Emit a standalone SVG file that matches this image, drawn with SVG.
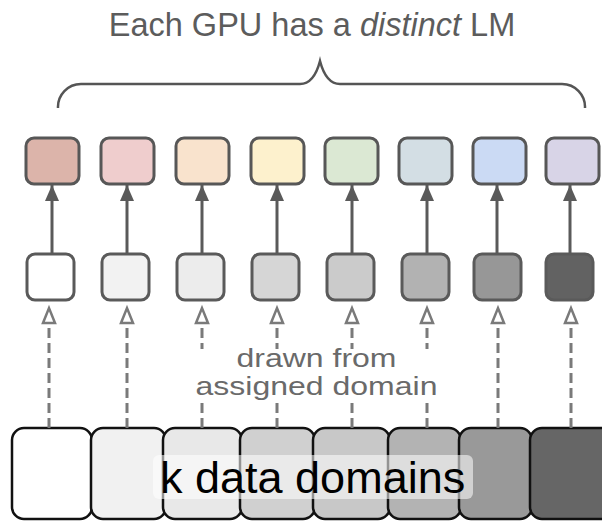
<svg xmlns="http://www.w3.org/2000/svg" width="602" height="521" viewBox="0 0 602 521">
  <style>
    .lm { stroke: #575757; stroke-width: 3; }
    .shard { stroke: #5a5a5a; stroke-width: 3; }
    .dom { stroke: #111; stroke-width: 2.5; }
    .up { stroke: #5a5a5a; stroke-width: 3; fill: none; }
    .draw { stroke: #7a7a7a; stroke-width: 3; fill: none; stroke-dasharray: 10 5; }
    .title { font-family: "Liberation Sans", Arial, sans-serif; font-size: 32.5px; fill: #5c5c5c; }
    .note { font-family: "Liberation Sans", Arial, sans-serif; font-size: 25px; fill: #6a6a6a; }
    .big { font-family: "Liberation Sans", Arial, sans-serif; font-size: 45px; fill: #000; }
  </style>
  <defs>
    <marker id="solidHead" markerUnits="userSpaceOnUse" viewBox="0 -8 16 16" refX="16" refY="0" markerWidth="16" markerHeight="16" orient="auto">
      <path d="M0,-7 L16,0 L0,7 Z" fill="#5a5a5a"/>
    </marker>
    <marker id="openHead" markerUnits="userSpaceOnUse" viewBox="-2 -9 20 18" refX="0" refY="0" markerWidth="20" markerHeight="18" orient="auto" overflow="visible">
      <path d="M0,-6 L15,0 L0,6 Z" fill="#fff" stroke="#7a7a7a" stroke-width="2.5" stroke-linejoin="miter"/>
    </marker>
  </defs>

  <!-- title and brace -->
  <text class="title" x="312" y="36" text-anchor="middle">Each GPU has a <tspan font-style="italic">distinct</tspan> LM</text>
  <path d="M58,108 A23,23 0 0 1 81,84 L300,84 Q314,84 320,61 Q326,84 340,84 L562,84 A23,23 0 0 1 585,108" fill="none" stroke="#555" stroke-width="2.5"/>

  <!-- language models, one per GPU -->
  <g id="lm1"><rect class="lm" x="26" y="138" width="53" height="46" rx="8" fill="#dcb4aa"/></g>
  <g id="lm2"><rect class="lm" x="101" y="138" width="53" height="46" rx="8" fill="#efcdcd"/></g>
  <g id="lm3"><rect class="lm" x="176" y="138" width="53" height="46" rx="8" fill="#f9e3cd"/></g>
  <g id="lm4"><rect class="lm" x="251" y="138" width="53" height="46" rx="8" fill="#fdf1cd"/></g>
  <g id="lm5"><rect class="lm" x="325" y="138" width="53" height="46" rx="8" fill="#dbe8d3"/></g>
  <g id="lm6"><rect class="lm" x="399" y="138" width="53" height="46" rx="8" fill="#d3dee4"/></g>
  <g id="lm7"><rect class="lm" x="473" y="138" width="53" height="46" rx="8" fill="#cbdaf4"/></g>
  <g id="lm8"><rect class="lm" x="546" y="138" width="53" height="46" rx="8" fill="#d8d4e7"/></g>

  <!-- data shards -->
  <g id="shard1"><rect class="shard" x="27" y="254" width="47" height="46" rx="8" fill="#ffffff"/></g>
  <g id="shard2"><rect class="shard" x="102" y="254" width="47" height="46" rx="8" fill="#f2f2f2"/></g>
  <g id="shard3"><rect class="shard" x="177" y="254" width="47" height="46" rx="8" fill="#ececec"/></g>
  <g id="shard4"><rect class="shard" x="252" y="254" width="47" height="46" rx="8" fill="#d6d6d6"/></g>
  <g id="shard5"><rect class="shard" x="327" y="254" width="47" height="46" rx="8" fill="#cbcbcb"/></g>
  <g id="shard6"><rect class="shard" x="402" y="254" width="47" height="46" rx="8" fill="#b2b2b2"/></g>
  <g id="shard7"><rect class="shard" x="474" y="254" width="47" height="46" rx="8" fill="#979797"/></g>
  <g id="shard8"><rect class="shard" x="546" y="254" width="47" height="46" rx="8" fill="#626262"/></g>

  <!-- data domains -->
  <g id="domains">
    <rect class="dom" x="12" y="428" width="80" height="91" rx="12" fill="#ffffff"/>
    <rect class="dom" x="91" y="428" width="75" height="91" rx="12" fill="#f1f1f1"/>
    <rect class="dom" x="163" y="428" width="79" height="91" rx="12" fill="#e8e8e8"/>
    <rect class="dom" x="240" y="428" width="75" height="91" rx="12" fill="#d0d0d0"/>
    <rect class="dom" x="313" y="428" width="77" height="91" rx="12" fill="#c8c8c8"/>
    <rect class="dom" x="388" y="428" width="73" height="91" rx="12" fill="#b3b3b3"/>
    <rect class="dom" x="459" y="428" width="73" height="91" rx="12" fill="#999999"/>
    <rect class="dom" x="530" y="428" width="90" height="91" rx="12" fill="#666666"/>
    <rect x="153" y="455" width="320" height="44" rx="6" fill="#ffffff" fill-opacity="0.55"/>
    <text class="big" x="160" y="493">k data domains</text>
  </g>

  <!-- connectors -->
  <g id="connectors">
    <line class="up" x1="52" y1="254" x2="52" y2="185" marker-end="url(#solidHead)"/>
    <line class="up" x1="127" y1="254" x2="127" y2="185" marker-end="url(#solidHead)"/>
    <line class="up" x1="202" y1="254" x2="202" y2="185" marker-end="url(#solidHead)"/>
    <line class="up" x1="277" y1="254" x2="277" y2="185" marker-end="url(#solidHead)"/>
    <line class="up" x1="352" y1="254" x2="352" y2="185" marker-end="url(#solidHead)"/>
    <line class="up" x1="427" y1="254" x2="427" y2="185" marker-end="url(#solidHead)"/>
    <line class="up" x1="497" y1="254" x2="497" y2="185" marker-end="url(#solidHead)"/>
    <line class="up" x1="570" y1="254" x2="570" y2="185" marker-end="url(#solidHead)"/>

    <line class="draw" x1="49" y1="428" x2="49" y2="323" marker-end="url(#openHead)"/>
    <line class="draw" x1="127" y1="428" x2="127" y2="323" marker-end="url(#openHead)"/>
    <line class="draw" x1="202" y1="428" x2="202" y2="323" marker-end="url(#openHead)"/>
    <line class="draw" x1="277" y1="428" x2="277" y2="323" marker-end="url(#openHead)"/>
    <line class="draw" x1="352" y1="428" x2="352" y2="323" marker-end="url(#openHead)"/>
    <line class="draw" x1="427" y1="428" x2="427" y2="323" marker-end="url(#openHead)"/>
    <line class="draw" x1="498" y1="428" x2="498" y2="323" marker-end="url(#openHead)"/>
    <line class="draw" x1="571" y1="428" x2="571" y2="323" marker-end="url(#openHead)"/>
  </g>

  <!-- two-line label over the dashed connectors -->
  <g id="drawn-label">
    <rect x="188" y="349" width="257" height="50" fill="#ffffff"/>
    <g transform="translate(316.5,0) scale(1.28,1)">
      <text class="note" text-anchor="middle"><tspan x="0" y="367">drawn from</tspan><tspan x="0" y="395">assigned domain</tspan></text>
    </g>
  </g>
</svg>
